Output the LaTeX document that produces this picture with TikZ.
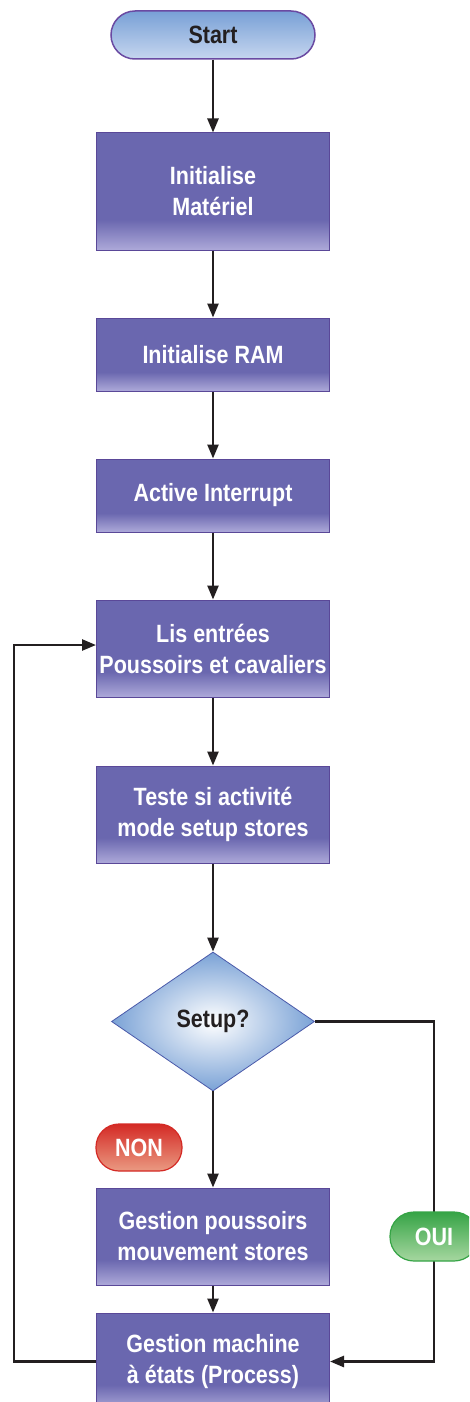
\documentclass[tikz,border=0pt]{standalone}
\usepackage{fontspec}
\setmainfont{Liberation Sans}[FakeStretch=0.86]
\usetikzlibrary{shapes.geometric,arrows.meta}
\definecolor{boxmain}{HTML}{6A67AF}
\definecolor{boxlight}{HTML}{ADA9D9}
\definecolor{boxborder}{HTML}{5A4898}
\definecolor{pilltop}{HTML}{78A0D6}
\definecolor{pillbot}{HTML}{C6D6EF}
\definecolor{pillborder}{HTML}{6A4AA2}
\definecolor{diaedge}{HTML}{7AA2D6}
\definecolor{diaborder}{HTML}{4A5AAA}
\definecolor{redtop}{HTML}{D42A25}
\definecolor{redbot}{HTML}{EA9A82}
\definecolor{greentop}{HTML}{36A446}
\definecolor{greenbot}{HTML}{A6D7A0}
\definecolor{ink}{HTML}{231F20}
\pgfdeclareverticalshading{boxshade}{100bp}{color(0bp)=(boxlight); color(25bp)=(boxlight); color(38bp)=(boxmain); color(100bp)=(boxmain)}
\tikzset{
  lbl/.style={font=\bfseries\fontsize{25}{31}\selectfont},
  proc/.style={lbl, draw=boxborder, line width=1pt, shade, shading=boxshade, minimum width=233pt, text=white, align=center, inner sep=0pt},
  startpill/.style={lbl, draw=pillborder, line width=1.5pt, rounded corners=24pt, top color=pilltop, bottom color=pillbot, minimum width=204pt, minimum height=48pt, text=ink},
  decision/.style={lbl, diamond, draw=diaborder, line width=0.8pt, inner color=white, outer color=diaedge, minimum width=203pt, minimum height=139pt, inner sep=0pt, text=ink},
  nonpill/.style={lbl, draw=redtop, line width=1.2pt, rounded corners=23pt, top color=redtop, bottom color=redbot, minimum width=86pt, minimum height=47pt, text=white},
  ouipill/.style={lbl, draw=greentop, line width=1.2pt, rounded corners=24pt, top color=greentop, bottom color=greenbot, minimum width=88pt, minimum height=49pt, text=white},
  arr/.style={draw=ink, line width=2.5pt, -{Triangle[length=14pt,width=11pt]}},
}
\begin{document}
\begin{tikzpicture}[x=1pt,y=-1pt]
\useasboundingbox (0,0) rectangle (469,1402);
\clip (0,0) rectangle (469,1402);
\fill[white] (0,0) rectangle (469,1402);
\node[startpill] (start) at (213,35) {Start};
\node[proc, minimum height=117pt] (b1) at (213,191.5) {Initialise\\Matériel};
\node[proc, minimum height=73pt] (b2) at (213,354.5) {Initialise RAM};
\node[proc, minimum height=73pt] (b3) at (213,495.5) {Active Interrupt};
\node[proc, minimum height=97pt] (b4) at (213,648.5) {Lis entrées\\Poussoirs et cavaliers};
\node[proc, minimum height=97pt] (b5) at (213,814.5) {Teste si activité\\mode setup stores};
\node[decision] (d) at (213,1021.5) {Setup?};
\node[proc, minimum height=97pt] (b6) at (213,1236.5) {Gestion poussoirs\\mouvement stores};
\node[proc, minimum height=97pt] (b7) at (213,1361.5) {Gestion machine\\à états (Process)};
\node[nonpill] (non) at (139,1147.5) {NON};
\coordinate (rtop) at (434,1021.5);
\coordinate (rbot) at (434,1361.5);
\coordinate (lbot) at (14,1361.5);
\coordinate (ltop) at (14,645);
\draw[arr] (start) -- (b1);
\draw[arr] (b1) -- (b2);
\draw[arr] (b2) -- (b3);
\draw[arr] (b3) -- (b4);
\draw[arr] (b4) -- (b5);
\draw[arr] (b5) -- (d);
\draw[arr] (d) -- (b6);
\draw[arr] (b6) -- (b7);
\draw[arr] (d.east) -- (rtop) -- (rbot) -- (b7.east);
\draw[arr] (b7.west) -- (lbot) -- (ltop) -- (ltop -| b4.west);
\node[ouipill] (oui) at (434,1236.5) {OUI};
\end{tikzpicture}
\end{document}
